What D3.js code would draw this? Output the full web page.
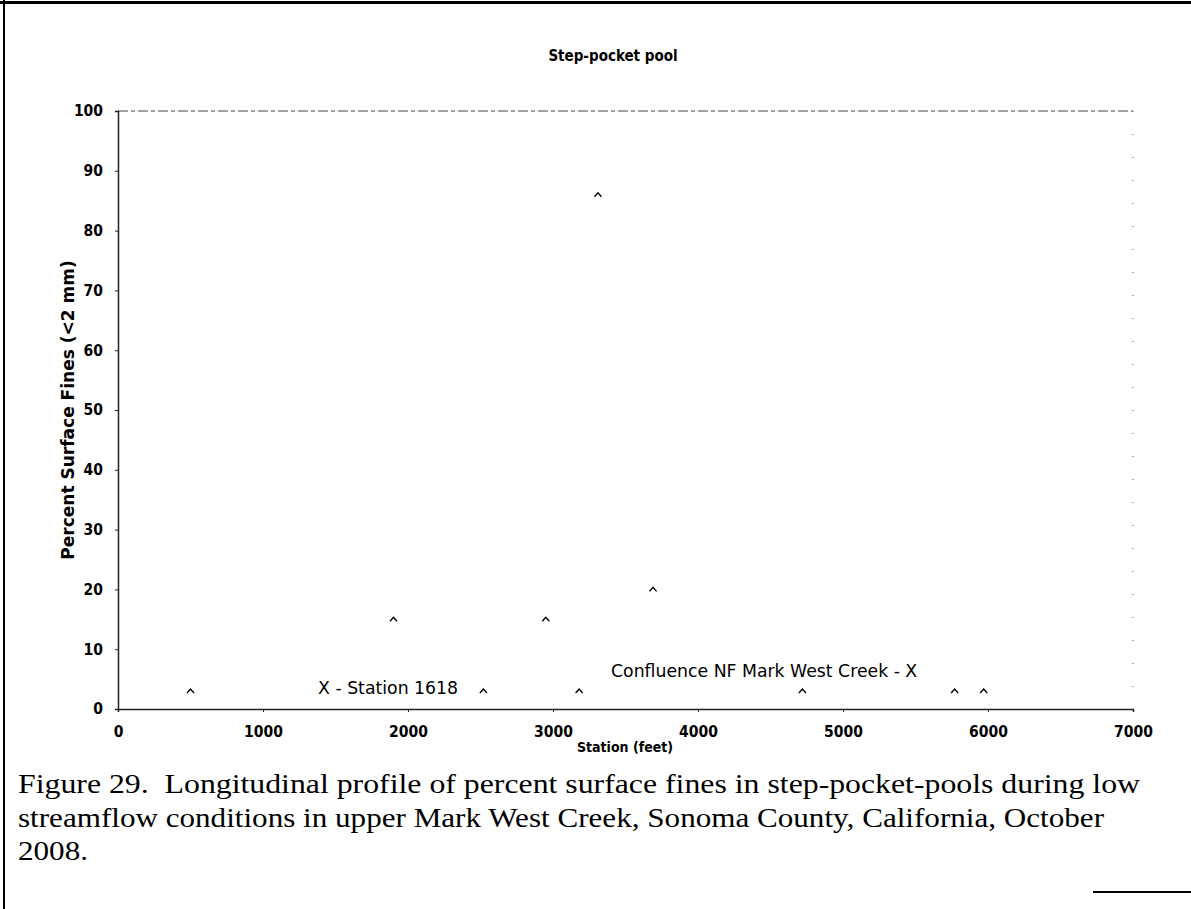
<!DOCTYPE html>
<html>
<head>
<meta charset="utf-8">
<script src="https://cdn.jsdelivr.net/npm/d3@7"></script>
<style>
  body { margin: 0; background: #fff; }
  svg { display: block; }
</style>
</head>
<body>
<div id="chart"></div>
<script>
// station (feet) and percent surface fines
const stations = [500, 1900, 2520, 2950, 3180, 3310, 3690, 4720, 5770, 5970];
const fines = [3, 15, 3, 15, 3, 86, 20, 3, 3, 3];
const xTicks = [0, 1000, 2000, 3000, 4000, 5000, 6000, 7000];
const yTicks = [0, 10, 20, 30, 40, 50, 60, 70, 80, 90, 100];
const notes = [
    { text: "X - Station 1618", x: 1380, y: 2.5 },
    { text: "Confluence NF Mark West Creek - X", x: 3400, y: 5.3 }
];
const caption = [
    "Figure 29.  Longitudinal profile of percent surface fines in step-pocket-pools during low",
    "streamflow conditions in upper Mark West Creek, Sonoma County, California, October",
    "2008."
];
const captionWidths = [1122, 1086, 70];

const width = 1191;
const height = 909;
const margin = { top: 111, right: 58, bottom: 200, left: 118 };

const svg = d3.select("#chart")
    .append("svg")
    .attr("width", width)
    .attr("height", height);

// scanned page edges
svg.append("rect").attr("x", 0).attr("y", 1).attr("width", width).attr("height", 3).attr("fill", "#000");
svg.append("rect").attr("x", 3).attr("y", 0).attr("width", 2).attr("height", height).attr("fill", "#000");
svg.append("rect").attr("x", 1093).attr("y", 891).attr("width", 98).attr("height", 2).attr("fill", "#000");

const xScale = d3.scaleLinear()
    .domain([0, 7000])
    .range([margin.left, width - margin.right]);

const yScale = d3.scaleLinear()
    .domain([0, 100])
    .range([height - margin.bottom, margin.top]);

const font = "'DejaVu Sans Condensed', 'DejaVu Sans', Verdana, sans-serif";

// top and right frame, faint in the scan
svg.append("line")
    .attr("x1", xScale(0)).attr("x2", xScale(7000))
    .attr("y1", yScale(100)).attr("y2", yScale(100))
    .attr("stroke", "#444").attr("stroke-width", 1)
    .attr("stroke-dasharray", "10,3,4,3");
svg.append("line")
    .attr("x1", xScale(7000)).attr("x2", xScale(7000))
    .attr("y1", yScale(100)).attr("y2", yScale(0))
    .attr("stroke", "#555").attr("stroke-width", 1)
    .attr("stroke-dasharray", "1,22");

const xAxis = svg.append("g")
    .attr("class", "x-axis")
    .attr("transform", `translate(0,${yScale(0)})`)
    .call(d3.axisBottom(xScale).tickValues(xTicks).tickSize(3).tickPadding(14).tickFormat(d3.format("d")));

const yAxis = svg.append("g")
    .attr("class", "y-axis")
    .attr("transform", `translate(${xScale(0)},0)`)
    .call(d3.axisLeft(yScale).tickValues(yTicks).tickSize(3).tickPadding(12));

[xAxis, yAxis].forEach(g => {
    g.select(".domain").attr("stroke", "#222").attr("stroke-width", 1.5);
    g.selectAll(".tick line").attr("stroke", "#222");
    g.selectAll(".tick text")
        .attr("font-family", font)
        .attr("font-weight", "bold")
        .attr("font-size", 15.5)
        .attr("fill", "#000");
});

svg.append("text")
    .attr("x", 613)
    .attr("y", 61)
    .attr("text-anchor", "middle")
    .attr("font-family", font)
    .attr("font-weight", "bold")
    .attr("font-size", 15)
    .text("Step-pocket pool");

svg.append("text")
    .attr("x", 625)
    .attr("y", 752)
    .attr("text-anchor", "middle")
    .attr("font-family", font)
    .attr("font-weight", "bold")
    .attr("font-size", 14)
    .text("Station (feet)");

svg.append("text")
    .attr("transform", "translate(74,410) rotate(-90)")
    .attr("text-anchor", "middle")
    .attr("font-family", "'DejaVu Sans', Verdana, sans-serif")
    .attr("font-weight", "bold")
    .attr("font-size", 17)
    .text("Percent Surface Fines (<2 mm)");

// caret-like markers (triangles worn away in the scan)
svg.selectAll("path.pt")
    .data(stations.map((s, i) => ({ x: s, y: fines[i] })))
    .enter()
    .append("path")
    .attr("class", "pt")
    .attr("transform", d => `translate(${xScale(d.x)},${yScale(d.y)})`)
    .attr("d", "M-3.5,2L0,-2L3.5,2")
    .attr("fill", "none")
    .attr("stroke", "#000")
    .attr("stroke-width", 1.4);

svg.selectAll("text.note")
    .data(notes)
    .enter()
    .append("text")
    .attr("class", "note")
    .attr("x", d => xScale(d.x))
    .attr("y", d => yScale(d.y))
    .attr("font-family", "'DejaVu Sans', Verdana, sans-serif")
    .attr("font-size", 17.3)
    .text(d => d.text);

svg.selectAll("text.caption")
    .data(caption)
    .enter()
    .append("text")
    .attr("class", "caption")
    .attr("x", 18)
    .attr("y", (d, i) => 793 + i * 33.5)
    .attr("font-family", "'Liberation Serif', 'Times New Roman', serif")
    .attr("font-size", 28)
    .attr("textLength", (d, i) => captionWidths[i])
    .attr("lengthAdjust", "spacingAndGlyphs")
    .style("white-space", "pre")
    .text(d => d);
</script>
</body>
</html>
